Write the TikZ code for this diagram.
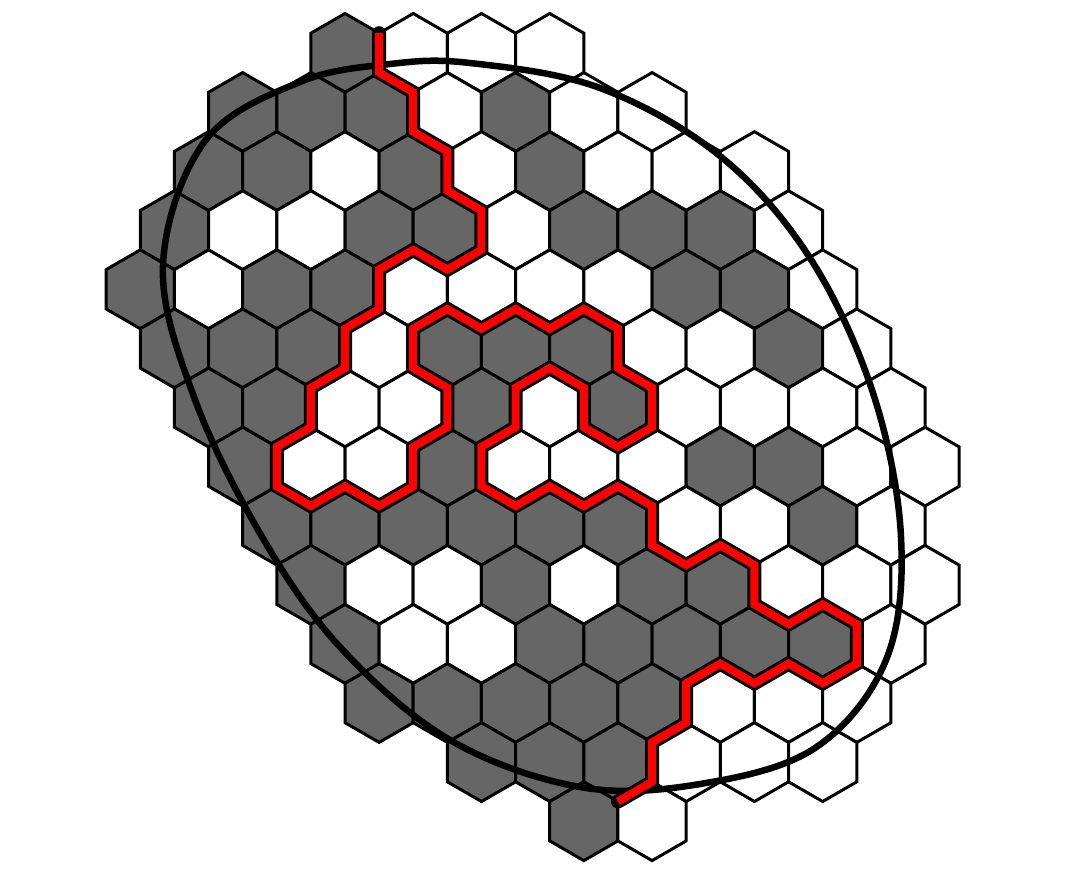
\documentclass[tikz,border=0pt]{standalone}
\colorlet{gg}{black!60}
\colorlet{ww}{white}
\tikzset{
  hexcell/.style={draw=black, line width=3pt, fill=#1},
  domainline/.style={draw=black, line width=6.5pt},
  pathunder/.style={draw=black, line width=14pt, line cap=round},
  pathover/.style={draw=red, line width=8pt},
}
% #1 = row, #2 = first column index, #3 = colours of the cells of the row
\newcommand{\hexrow}[3]{%
  \foreach \c [count=\i] in {#3} {
    \draw[hexcell=\c] ({345+68.24*(\i-1+#2)+34.12*#1},{52.9+59.1*#1})
      +(0,-39.4) -- +(34.12,-19.7) -- +(34.12,19.7) -- +(0,39.4)
      -- +(-34.12,19.7) -- +(-34.12,-19.7) -- cycle;
  }%
}
\newcommand{\interfacepath}{(379.12,33.2) -- (379.12,72.6) -- (413.24,92.3) -- (413.24,131.7) -- (447.36,151.4) -- (447.36,190.8) -- (481.48,210.5) -- (481.48,249.9) -- (447.36,269.6) -- (413.24,249.9) -- (379.12,269.6) -- (379.12,309) -- (345,328.7) -- (345,368.1) -- (310.88,387.8) -- (310.88,427.2) -- (276.76,446.9) -- (276.76,486.3) -- (310.88,506) -- (345,486.3) -- (379.12,506) -- (413.24,486.3) -- (413.24,446.9) -- (447.36,427.2) -- (447.36,387.8) -- (413.24,368.1) -- (413.24,328.7) -- (447.36,309) -- (481.48,328.7) -- (515.6,309) -- (549.72,328.7) -- (583.84,309) -- (617.96,328.7) -- (617.96,368.1) -- (652.08,387.8) -- (652.08,427.2) -- (617.96,446.9) -- (583.84,427.2) -- (583.84,387.8) -- (549.72,368.1) -- (515.6,387.8) -- (515.6,427.2) -- (481.48,446.9) -- (481.48,486.3) -- (515.6,506) -- (549.72,486.3) -- (583.84,506) -- (617.96,486.3) -- (652.08,506) -- (652.08,545.4) -- (686.2,565.1) -- (720.32,545.4) -- (754.44,565.1) -- (754.44,604.5) -- (788.56,624.2) -- (822.68,604.5) -- (856.8,624.2) -- (856.8,663.6) -- (822.68,683.3) -- (788.56,663.6) -- (754.44,683.3) -- (720.32,663.6) -- (686.2,683.3) -- (686.2,722.7) -- (652.08,742.4) -- (652.08,781.8) -- (617.96,801.5)}
\begin{document}
\begin{tikzpicture}[x=1pt,y=-1pt]
\useasboundingbox (0,0) rectangle (1070,869);
% hexagonal cells, row by row
\hexrow{0}{0}{gg,ww,ww,ww}
\hexrow{1}{-2}{gg,gg,gg,ww,gg,ww,ww}
\hexrow{2}{-3}{gg,gg,ww,gg,ww,gg,ww,ww,ww}
\hexrow{3}{-4}{gg,ww,ww,gg,gg,ww,gg,gg,gg,ww}
\hexrow{4}{-5}{gg,ww,gg,gg,ww,ww,ww,ww,gg,gg,ww}
\hexrow{5}{-5}{gg,gg,gg,ww,gg,gg,gg,ww,ww,gg,ww}
\hexrow{6}{-5}{gg,gg,ww,ww,gg,ww,gg,ww,ww,ww,ww}
\hexrow{7}{-5}{gg,ww,ww,gg,ww,ww,ww,gg,gg,ww,ww}
\hexrow{8}{-5}{gg,gg,gg,gg,gg,gg,ww,ww,gg,ww}
\hexrow{9}{-5}{gg,ww,ww,gg,ww,gg,gg,ww,ww,ww}
\hexrow{10}{-5}{gg,ww,ww,gg,gg,gg,gg,gg,ww}
\hexrow{11}{-5}{gg,gg,gg,gg,gg,ww,ww,ww}
\hexrow{12}{-4}{gg,gg,gg,ww,ww,ww}
\hexrow{13}{-3}{gg,ww}
% domain boundary
\draw[domainline] plot[smooth cycle, tension=0.6] coordinates {
 (470,63) (600,88) (720,156) (810,258) (873,393) (901,537) (886,660)
 (815,748) (700,784) (580,787) (450,740) (340,647) (261,535) (194,397)
 (163,265) (205,141) (300,82) (390,64)};
% exploration interface
\draw[pathunder] \interfacepath;
\draw[pathover] \interfacepath;
\end{tikzpicture}
\end{document}
